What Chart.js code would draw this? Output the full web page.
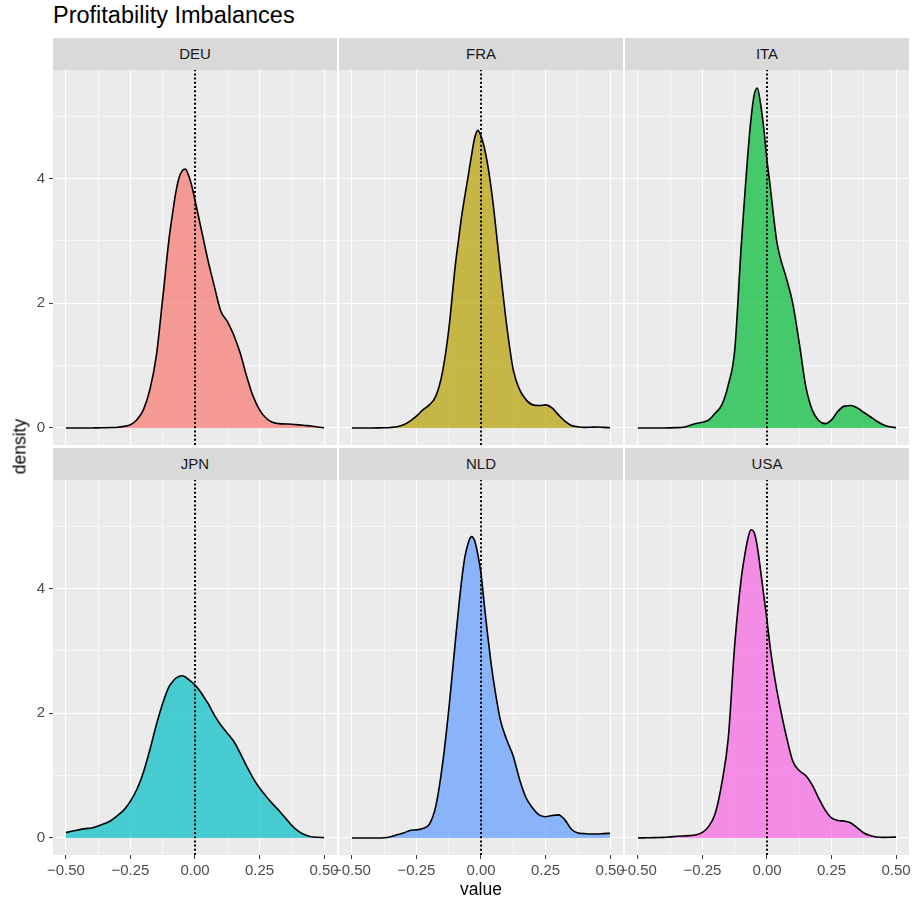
<!DOCTYPE html>
<html lang="en">
<head>
<meta charset="UTF-8">
<title>Profitability Imbalances</title>
<script src="https://cdn.jsdelivr.net/npm/chart.js@4.4.0/dist/chart.umd.min.js"></script>
<style>
    * { margin: 0; padding: 0; box-sizing: border-box; }
    body {
        width: 915px;
        height: 907px;
        background: #ffffff;
        position: relative;
        overflow: hidden;
        font-family: 'Liberation Sans', Arial, sans-serif;
    }
    canvas { position: absolute; }
    .title {
        position: absolute;
        left: 53px;
        top: 2px;
        font-size: 23.5px;
        color: #000;
    }
    .strip {
        position: absolute;
        height: 32px;
        line-height: 32px;
        background: #D9D9D9;
        color: #1A1A1A;
        font-size: 15px;
        text-align: center;
    }
    .axis-title {
        position: absolute;
        font-size: 17.5px;
        color: #000;
        white-space: nowrap;
    }
</style>
</head>
<body>
<div class="title">Profitability Imbalances</div>
<div id="wrap"></div>
<div class="axis-title" style="left:456px; top:879px; width:50px; text-align:center;">value</div>
<div class="axis-title" style="left:-20px; top:436px; width:80px; text-align:center; transform:rotate(-90deg);">density</div>

<script>
// facet order
const countries = ['DEU', 'FRA', 'ITA', 'JPN', 'NLD', 'USA'];
const fills = ['#F8766D', '#B79F00', '#00BA38', '#00BFC4', '#619CFF', '#F564E3'];

// x grid the curves were read on
const xs = [-0.5, -0.475, -0.45, -0.425, -0.4, -0.375, -0.35, -0.325, -0.3, -0.275, -0.25, -0.225, -0.2, -0.175, -0.15, -0.125, -0.1,
    -0.0875, -0.075, -0.0625, -0.05, -0.0375, -0.025, -0.0125, 0, 0.0125, 0.025, 0.0375, 0.05,
    0.075, 0.1, 0.125, 0.15, 0.175, 0.2, 0.225, 0.25, 0.275, 0.3, 0.325, 0.35, 0.375, 0.4, 0.425, 0.45, 0.475, 0.5];

const deu = [0, 0, 0, 0, 0, 0.002, 0.004, 0.007, 0.012, 0.025, 0.05, 0.13, 0.29, 0.61, 1.15, 2.08, 3.05,
    3.42, 3.76, 4.0, 4.12, 4.15, 4.05, 3.88, 3.65, 3.41, 3.17, 2.93, 2.69,
    2.27, 1.87, 1.71, 1.49, 1.2, 0.83, 0.51, 0.29, 0.16, 0.09, 0.07, 0.064, 0.06, 0.05, 0.04, 0.03, 0.015, 0.003];
const fra = [0, 0, 0, 0, 0.001, 0.003, 0.008, 0.02, 0.05, 0.11, 0.19, 0.29, 0.37, 0.51, 0.88, 1.57, 2.59,
    3.0, 3.39, 3.72, 4.03, 4.35, 4.64, 4.77, 4.68, 4.5, 4.24, 3.9, 3.49,
    2.53, 1.63, 0.93, 0.61, 0.45, 0.37, 0.36, 0.37, 0.32, 0.21, 0.11, 0.04, 0.02, 0.01, 0.012, 0.015, 0.01, 0.003];
const ita = [0, 0, 0, 0, 0, 0.002, 0.005, 0.01, 0.04, 0.07, 0.09, 0.13, 0.24, 0.37, 0.69, 1.25, 2.91,
    3.65, 4.35, 4.93, 5.33, 5.45, 5.2, 4.8, 4.29, 3.87, 3.41, 3.0, 2.75,
    2.4, 1.99, 1.36, 0.67, 0.29, 0.12, 0.07, 0.13, 0.27, 0.35, 0.36, 0.32, 0.25, 0.18, 0.11, 0.05, 0.02, 0.005];
const jpn = [0.085, 0.11, 0.13, 0.15, 0.16, 0.19, 0.23, 0.28, 0.36, 0.45, 0.59, 0.78, 1.05, 1.41, 1.81, 2.16, 2.43,
    2.5, 2.56, 2.59, 2.6, 2.58, 2.54, 2.5, 2.45, 2.39, 2.32, 2.24, 2.16,
    1.97, 1.81, 1.68, 1.55, 1.36, 1.15, 0.96, 0.8, 0.67, 0.55, 0.44, 0.32, 0.2, 0.11, 0.05, 0.02, 0.01, 0.005];
const nld = [0, 0, 0, 0, 0, 0.003, 0.02, 0.05, 0.08, 0.12, 0.13, 0.15, 0.22, 0.51, 1.15, 2.05, 3.12,
    3.65, 4.13, 4.5, 4.72, 4.83, 4.77, 4.55, 4.24, 3.75, 3.28, 2.85, 2.48,
    1.89, 1.57, 1.31, 0.93, 0.64, 0.48, 0.37, 0.34, 0.36, 0.37, 0.29, 0.14, 0.08, 0.07, 0.064, 0.064, 0.07, 0.075];
const usa = [0, 0.002, 0.004, 0.007, 0.01, 0.018, 0.027, 0.032, 0.037, 0.05, 0.09, 0.19, 0.4, 0.88, 1.6, 3.1, 4.15,
    4.5, 4.78, 4.94, 4.9, 4.67, 4.29, 3.89, 3.49, 3.05, 2.69, 2.38, 2.11,
    1.63, 1.23, 1.08, 1.0, 0.85, 0.64, 0.45, 0.32, 0.28, 0.27, 0.24, 0.16, 0.08, 0.04, 0.015, 0.01, 0.012, 0.015];
const densities = [deu, fra, ita, jpn, nld, usa];

// axes
const xLimits = [-0.55, 0.55];
const yLimits = [-0.2733, 5.738];
const xTickVals = [-0.5, -0.375, -0.25, -0.125, 0, 0.125, 0.25, 0.375, 0.5];
const xMajor = [-0.5, -0.25, 0, 0.25, 0.5];
const xMajorLabels = ['\u22120.50', '\u22120.25', '0.00', '0.25', '0.50'];
const yTickVals = [0, 1, 2, 3, 4, 5];
const yMajor = [0, 2, 4];
const yMajorLabels = ['0', '2', '4'];

// layout of the facet grid
const colLeft = [53, 339, 625];
const rowTop = [70, 480];
const panelW = 284;
const panelH = 375;
const padT = 14;   // room for label overflow, kept outside the panel

Chart.defaults.font.family = "'Liberation Sans', Arial, sans-serif";
Chart.defaults.font.size = 15;
Chart.defaults.color = '#4D4D4D';

const panelBg = {
    id: 'panelBg',
    beforeDraw(chart) {
        const a = chart.chartArea;
        const ctx = chart.ctx;
        ctx.save();
        ctx.fillStyle = '#EBEBEB';
        ctx.fillRect(a.left, a.top, a.right - a.left, a.bottom - a.top);
        ctx.restore();
    }
};

function isMajor(list, v) {
    return list.some(m => Math.abs(m - v) < 1e-9);
}

const wrap = document.getElementById('wrap');

countries.forEach((name, i) => {
    const r = Math.floor(i / 3);
    const c = i % 3;
    const padL = c === 0 ? 53 : 20;
    const padR = 20;
    const padB = r === 1 ? 50 : padT;

    const strip = document.createElement('div');
    strip.className = 'strip';
    strip.style.left = colLeft[c] + 'px';
    strip.style.top = (rowTop[r] - 32) + 'px';
    strip.style.width = panelW + 'px';
    strip.textContent = name;
    wrap.appendChild(strip);

    const canvas = document.createElement('canvas');
    canvas.width = padL + panelW + padR;
    canvas.height = padT + panelH + padB;
    canvas.style.left = (colLeft[c] - padL) + 'px';
    canvas.style.top = (rowTop[r] - padT) + 'px';
    wrap.appendChild(canvas);

    const showX = r === 1;
    const showY = c === 0;

    new Chart(canvas.getContext('2d'), {
        type: 'line',
        data: {
            datasets: [{
                data: [{ x: 0, y: yLimits[0] }, { x: 0, y: yLimits[1] }],
                borderColor: '#000000',
                borderWidth: 2,
                borderDash: [2, 2.2],
                pointRadius: 0,
                fill: false,
                order: 0
            }, {
                data: xs.map((x, k) => ({ x: x, y: densities[i][k] })),
                borderColor: '#000000',
                borderWidth: 1.6,
                backgroundColor: fills[i] + 'B3',
                fill: 'origin',
                pointRadius: 0,
                cubicInterpolationMode: 'monotone',
                order: 1
            }]
        },
        options: {
            responsive: false,
            animation: false,
            layout: { padding: { left: 0, right: padR, top: padT, bottom: r === 1 ? 0 : padT } },
            plugins: { legend: { display: false }, tooltip: { enabled: false } },
            scales: {
                x: {
                    type: 'linear',
                    min: xLimits[0],
                    max: xLimits[1],
                    afterBuildTicks: s => { s.ticks = xTickVals.map(v => ({ value: v })); },
                    afterFit: s => { s.height = r === 1 ? padB : 0; },
                    border: { display: false },
                    grid: {
                        color: '#FFFFFF',
                        lineWidth: ctx => isMajor(xMajor, ctx.tick.value) ? 1.1 : 0.55,
                        drawTicks: showX,
                        tickLength: 4,
                        tickWidth: 1,
                        tickColor: ctx => isMajor(xMajor, ctx.tick.value) ? '#333333' : 'rgba(0,0,0,0)'
                    },
                    ticks: {
                        display: showX,
                        autoSkip: false,
                        maxRotation: 0,
                        padding: 3,
                        callback: v => {
                            const k = xMajor.findIndex(m => Math.abs(m - v) < 1e-9);
                            return k >= 0 ? xMajorLabels[k] : '';
                        }
                    }
                },
                y: {
                    type: 'linear',
                    min: yLimits[0],
                    max: yLimits[1],
                    afterBuildTicks: s => { s.ticks = yTickVals.map(v => ({ value: v })); },
                    afterFit: s => { s.width = padL; },
                    border: { display: false },
                    grid: {
                        color: '#FFFFFF',
                        lineWidth: ctx => isMajor(yMajor, ctx.tick.value) ? 1.1 : 0.55,
                        drawTicks: showY,
                        tickLength: 4,
                        tickWidth: 1,
                        tickColor: ctx => isMajor(yMajor, ctx.tick.value) ? '#333333' : 'rgba(0,0,0,0)'
                    },
                    ticks: {
                        display: showY,
                        autoSkip: false,
                        padding: 4,
                        callback: v => {
                            const k = yMajor.findIndex(m => Math.abs(m - v) < 1e-9);
                            return k >= 0 ? yMajorLabels[k] : '';
                        }
                    }
                }
            }
        },
        plugins: [panelBg]
    });
});
</script>
</body>
</html>
